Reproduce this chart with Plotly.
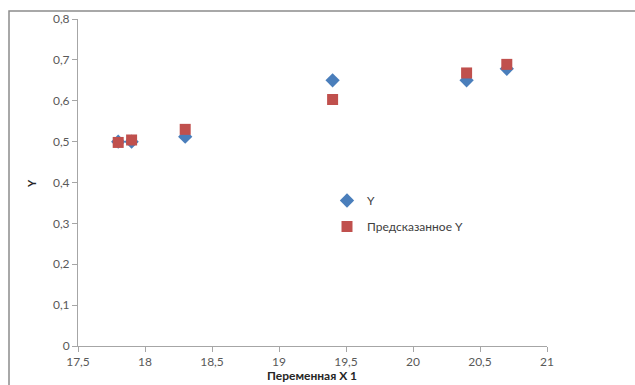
import plotly.graph_objects as go

x_vals = [17.8, 17.9, 18.3, 19.4, 20.4, 20.7]
y_actual = [0.50, 0.50, 0.512, 0.65, 0.65, 0.678]
y_pred = [0.498, 0.504, 0.530, 0.603, 0.668, 0.689]

series_names = ["Y", "Предсказанное Y"]
x_title = "Переменная X 1"
y_title = "Y"

W, H = 635, 385
L, R, T, B = 78, 88, 19, 39
pw = W - L - R
ph = H - T - B

font_family = "Lato, 'Liberation Sans', Arial, sans-serif"
tick_color = "#595959"

fig = go.Figure()
fig.add_trace(go.Scatter(
    x=x_vals, y=y_actual, mode="markers", name=series_names[0],
    legendgroup="a",
    marker=dict(symbol="diamond", size=11, color="#4a7ebb"),
))
fig.add_trace(go.Scatter(
    x=x_vals, y=y_pred, mode="markers", name=series_names[1],
    legendgroup="b",
    marker=dict(symbol="square", size=11, color="#c0504d"),
))

fig.update_layout(
    width=W, height=H,
    margin=dict(l=L, r=R, t=T, b=B),
    paper_bgcolor="white", plot_bgcolor="white",
    separators=", ",
    font=dict(family=font_family, size=11, color=tick_color),
    legend=dict(
        x=(327 - L) / pw, y=(346 - 186) / ph, xanchor="left", yanchor="top",
        bgcolor="rgba(0,0,0,0)", font=dict(size=12, color="#404040"),
        tracegroupgap=7, itemwidth=30,
    ),
    showlegend=True,
    xaxis=dict(
        range=[17.5, 21], dtick=0.5, tick0=17.5,
        showgrid=False, zeroline=False,
        showline=True, linecolor="#a6a6a6", linewidth=1,
        ticks="outside", ticklen=5, tickcolor="#a6a6a6",
        tickfont=dict(size=12, color=tick_color),
    ),
    yaxis=dict(
        range=[0, 0.8], dtick=0.1, tick0=0,
        showgrid=False, zeroline=False,
        showline=True, linecolor="#a6a6a6", linewidth=1,
        ticks="outside", ticklen=5, tickcolor="#a6a6a6",
        tickfont=dict(size=12, color=tick_color),
    ),
)

# axis titles
fig.add_annotation(
    text=f"<b>{x_title}</b>", xref="paper", yref="paper",
    x=(312 - L) / pw, y=(346 - 376) / ph, xanchor="center", yanchor="middle",
    showarrow=False, font=dict(size=12, color="#262626"),
)
fig.add_annotation(
    text=f"<b>{y_title}</b>", xref="paper", yref="paper",
    x=(31 - L) / pw, y=(346 - 184) / ph, xanchor="center", yanchor="middle",
    showarrow=False, textangle=-90, font=dict(size=11, color="#262626"),
)

# chart outer border (Excel chart area)
fig.add_shape(
    type="rect", xref="paper", yref="paper",
    x0=(9 - L) / pw, x1=(660 - L) / pw,
    y0=(346 - 400) / ph, y1=(346 - 11) / ph,
    line=dict(color="#8c8c8c", width=1.5), fillcolor="rgba(0,0,0,0)",
    layer="below",
)

fig.write_html("out.html")
